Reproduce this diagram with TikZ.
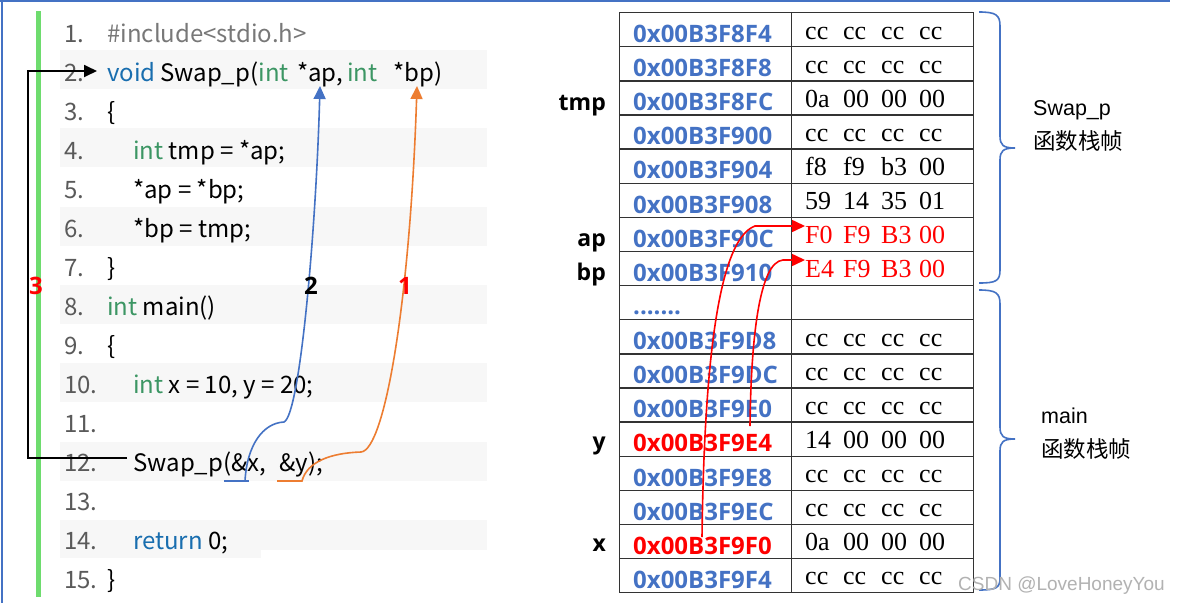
\documentclass[tikz,border=0pt]{standalone}
\usepackage{fontspec}
\setmainfont{Liberation Serif}
\newfontfamily\codefont{Noto Sans CJK SC}
\newfontfamily\boldsans{Open Sans}
\newfontfamily\arialfont{Liberation Sans}
\newfontfamily\cjkfont{Noto Sans CJK SC}
\usetikzlibrary{arrows.meta}
\definecolor{codeblue}{RGB}{25,110,175}
\definecolor{codegreen}{RGB}{60,150,100}
\definecolor{linegray}{RGB}{90,90,90}
\definecolor{bandgray}{RGB}{247,247,247}
\definecolor{addrblue}{RGB}{68,114,196}
\definecolor{barGreen}{RGB}{110,220,110}
\definecolor{arrOrange}{RGB}{237,125,49}
\definecolor{arrBlue}{RGB}{68,114,196}
\definecolor{incgray}{RGB}{120,120,120}
\newcommand\vals[4]{\makebox[38pt][l]{#1}\makebox[38pt][l]{#2}\makebox[38pt][l]{#3}\makebox[38pt][l]{#4}}
\tikzset{
  codetxt/.style={font=\codefont\fontsize{24}{24}\selectfont, anchor=base west, inner sep=0pt, text=black},
  lnum/.style={codetxt, text=linegray},
  cell/.style={draw=black!80, line width=1.3pt, anchor=north west, minimum height=34.12pt, inner sep=0pt},
  addr/.style={font=\boldsans\bfseries\fontsize{24}{24}\selectfont, anchor=base west, inner sep=0pt},
  valtxt/.style={font=\fontsize{26}{26}\selectfont, anchor=base west, inner sep=0pt},
  varlbl/.style={font=\boldsans\bfseries\fontsize{23}{23}\selectfont, anchor=base east, inner sep=0pt},
  numlbl/.style={font=\boldsans\bfseries\fontsize{24}{24}\selectfont, inner sep=0pt},
  framelbl/.style={font=\arialfont\fontsize{21.5}{21.5}\selectfont, anchor=base west, inner sep=0pt},
  framecjk/.style={font=\cjkfont\fontsize{22.5}{22.5}\selectfont, anchor=base west, inner sep=0pt},
  bracec/.style={draw=addrblue, line width=1.6pt},
  redarr/.style={draw=red, line width=1.6pt, -{Triangle[length=13pt,width=12pt]}},
}
\begin{document}
\begin{tikzpicture}[x=1pt,y=-1pt]
\useasboundingbox[fill=white] (0,0) rectangle (1181,603);
% frame
\draw[addrblue, line width=1.5pt] (0,1) -- (1170,1);
\draw[addrblue, line width=2pt] (1.5,0) -- (1.5,603);
% code bands
\foreach \k in {2,4,...,12}{
  \fill[bandgray] (60,{50+(\k-2)/2*78.3}) rectangle (487,{89+(\k-2)/2*78.3});
}
\fill[bandgray] (60,520) rectangle (487,550);
\fill[bandgray] (60,550) rectangle (261,558);
% green bar
\fill[barGreen] (36,11) rectangle (41,597);
% line numbers
\foreach \k in {1,...,15}{
  \node[lnum] (ln\k) at (64,{42+(\k-1)*39.04}) {\k.};
}
% code
\node[codetxt, text=incgray] (c1) at (107,42) {\#include<stdio.h>};
\node[codetxt, text=codeblue] (c2a) at (107,81) {void};
\node[codetxt] (c2b) at (160,81) {Swap\_p(};
\node[codetxt, text=codegreen] (c2c) at (c2b.base east) {int};
\node[codetxt] (c2d) at (297,81) {*ap,};
\node[codetxt, text=codegreen] (c2e) at (347,81) {int};
\node[codetxt] (c2f) at (393,81) {*bp)};
\node[codetxt] (c3) at (107,120) {\{};
\node[codetxt] (c4) at (133,159) {\textcolor{codegreen}{int} tmp = *ap;};
\node[codetxt] (c5) at (133,198) {*ap = *bp;};
\node[codetxt] (c6) at (133,237) {*bp = tmp;};
\node[codetxt] (c7) at (107,276) {\}};
\node[codetxt] (c8) at (107,315) {\textcolor{codegreen}{int} main()};
\node[codetxt] (c9) at (107,354) {\{};
\node[codetxt] (c10) at (133,393) {\textcolor{codegreen}{int} x = 10, y = 20;};
\node[codetxt] (c12a) at (133,471) {Swap\_p(\&x,};
\node[codetxt] (c12b) at (279,471) {\&y);};
\node[codetxt] (c14) at (133,549) {\textcolor{codeblue}{return} 0;};
\node[codetxt] (c15) at (107,588) {\}};
% arrow 3 (black)
\coordinate (k3s) at (127,458);
\coordinate (k3e) at (97,71);
\draw[black, line width=1.8pt, -{Triangle[length=13pt,width=12pt]}] (k3s) -- ++(-99,0) |- (k3e);
\node[numlbl, text=red] (n3) at (36,286) {3};
% arrow 2 (blue)
\coordinate (b2l) at (224,481);
\coordinate (b2r) at (249,481);
\coordinate (b2s) at (245,481);
\coordinate (b2m) at (284,422);
\coordinate (b2e) at (320,86);
\draw[arrBlue, line width=1.6pt] (b2l) -- (b2r);
\draw[arrBlue, line width=1.6pt, -{Triangle[length=13pt,width=12pt]}] (b2s) .. controls (247,445) and (263,423) .. (b2m) .. controls (300,415) and (316,230) .. (b2e);
\node[numlbl, text=black] (n2) at (311,286) {2};
% arrow 1 (orange)
\coordinate (o1l) at (277,481);
\coordinate (o1m) at (361,452);
\coordinate (o1e) at (417,86);
\draw[arrOrange, line width=1.6pt, -{Triangle[length=13pt,width=12pt]}] (o1l) -- (302,481) .. controls (307,462) and (330,453) .. (o1m) .. controls (385,450) and (410,300) .. (o1e);
\node[numlbl, text=red] (n1) at (405,286) {1};
% table
\foreach \i/\ad/\ac/\vv/\vc in {
  1/0x00B3F8F4/addrblue/{\vals{cc}{cc}{cc}{cc}}/black,
  2/0x00B3F8F8/addrblue/{\vals{cc}{cc}{cc}{cc}}/black,
  3/0x00B3F8FC/addrblue/{\vals{0a}{00}{00}{00}}/black,
  4/0x00B3F900/addrblue/{\vals{cc}{cc}{cc}{cc}}/black,
  5/0x00B3F904/addrblue/{\vals{f8}{f9}{b3}{00}}/black,
  6/0x00B3F908/addrblue/{\vals{59}{14}{35}{01}}/black,
  7/0x00B3F90C/addrblue/{\vals{F0}{F9}{B3}{00}}/red,
  8/0x00B3F910/addrblue/{\vals{E4}{F9}{B3}{00}}/red,
  10/0x00B3F9D8/addrblue/{\vals{cc}{cc}{cc}{cc}}/black,
  11/0x00B3F9DC/addrblue/{\vals{cc}{cc}{cc}{cc}}/black,
  12/0x00B3F9E0/addrblue/{\vals{cc}{cc}{cc}{cc}}/black,
  13/0x00B3F9E4/red/{\vals{14}{00}{00}{00}}/black,
  14/0x00B3F9E8/addrblue/{\vals{cc}{cc}{cc}{cc}}/black,
  15/0x00B3F9EC/addrblue/{\vals{cc}{cc}{cc}{cc}}/black,
  16/0x00B3F9F0/red/{\vals{0a}{00}{00}{00}}/black,
  17/0x00B3F9F4/addrblue/{\vals{cc}{cc}{cc}{cc}}/black}{
  \node[cell, minimum width=172pt] (a\i) at (619,{12+(\i-1)*34.12}) {};
  \node[cell, minimum width=182pt] (v\i) at (791,{12+(\i-1)*34.12}) {};
  \node[addr, text=\ac] (at\i) at (633,{12+(\i-1)*34.12+30.5}) {\ad};
  \node[valtxt, text=\vc] (vt\i) at (805,{12+(\i-1)*34.12+27}) {\vv};
}
\node[cell, minimum width=172pt] (a9) at (619,{12+8*34.12}) {};
\node[cell, minimum width=182pt] (v9) at (791,{12+8*34.12}) {};
\node[addr, text=addrblue] (at9) at (633,{12+8*34.12+30}) {.......};
% variable labels
\node[varlbl] (ltmp) at (606,{12+2*34.12+30}) {tmp};
\node[varlbl] (lap) at (606,{12+6*34.12+30}) {ap};
\node[varlbl] (lbp) at (606,{12+7*34.12+30}) {bp};
\node[varlbl] (ly) at (606,{12+12*34.12+28}) {y};
\node[varlbl] (lx) at (606,{12+15*34.12+28}) {x};
% red arrows
\coordinate (rxs) at (702,537);
\coordinate (rxe) at (805,226);
\coordinate (rys) at (750,426);
\coordinate (rye) at (805,260);
\draw[redarr] (rxs) .. controls (704,380) and (716,240) .. (755,226) -- (rxe);
\draw[redarr] (rys) .. controls (751,340) and (759,262) .. (783,260) -- (rye);
% braces
\draw[bracec] (979,12) .. controls (996,12) and (1000,15) .. (1000,26) -- (1000,136) .. controls (1000,145) and (1003,148) .. (1015,148)
  .. controls (1003,148) and (1000,151) .. (1000,160) -- (1000,270) .. controls (1000,281) and (996,283) .. (979,283);
\draw[bracec] (979,290) .. controls (996,290) and (1000,293) .. (1000,304) -- (1000,427) .. controls (1000,436) and (1003,439) .. (1015,439)
  .. controls (1003,439) and (1000,442) .. (1000,451) -- (1000,578) .. controls (1000,588) and (996,590) .. (979,590);
\node[framelbl] (fswap) at (1033,115) {Swap\_p};
\node[framecjk] (fswapc) at (1033,149) {函数栈帧};
\node[framelbl] (fmain) at (1041,423) {main};
\node[framecjk] (fmainc) at (1041,457) {函数栈帧};
% watermark
\node[font=\arialfont\fontsize{19}{19}\selectfont, text=black!30, anchor=base west, inner sep=0pt] (wm) at (958,590) {CSDN @LoveHoneyYou};
\end{tikzpicture}
\end{document}
